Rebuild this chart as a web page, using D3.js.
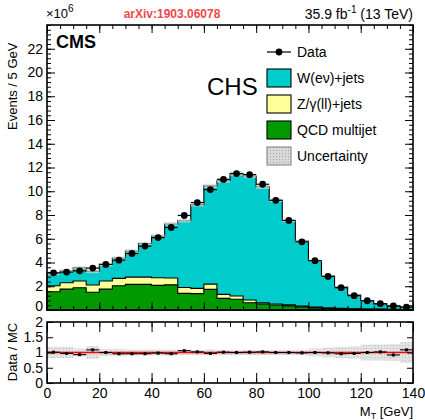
<!DOCTYPE html>
<html><head><meta charset="utf-8">
<script src="https://cdn.jsdelivr.net/npm/d3@7"></script>
<style>
body{margin:0;background:#fff}
svg{display:block}
text{font-family:"Liberation Sans",Arial,Helvetica,sans-serif;fill:#000}
</style>
</head><body>
<svg id="c" width="425" height="420"></svg>
<script>
// ---- data (units of 10^6 events / 5 GeV) ----
const binLow = d3.range(0, 140, 5);      // lower bin edges, GeV
const binWidth = 5;
const dataVals = [3.13,3.19,3.30,3.53,3.84,4.20,4.76,5.38,6.10,6.95,7.96,9.05,10.14,11.00,11.49,11.40,10.59,9.24,7.54,5.74,4.15,2.83,1.88,1.21,0.78,0.53,0.34,0.25];
const qcdVals  = [1.54,1.76,1.88,1.49,1.76,2.04,2.16,2.16,2.07,2.12,1.40,1.38,1.74,0.98,0.90,0.61,0.50,0.42,0.35,0.26,0.18,0.13,0.10,0.08,0.06,0.05,0.04,0.03];
const zVals    = [0.50,0.53,0.56,0.61,0.68,0.62,0.61,0.61,0.64,0.57,0.50,0.44,0.44,0.34,0.28,0.23,0.10,0.09,0.08,0.07,0.06,0.05,0.04,0.03,0.02,0.02,0.01,0.01];
const wVals    = [1.06,1.00,1.11,1.15,1.40,1.72,2.19,2.83,3.51,4.55,5.61,7.05,8.27,9.57,10.31,10.45,9.78,8.73,7.11,5.47,3.91,2.68,1.82,1.14,0.70,0.45,0.32,0.19];
const mainUnc  = [0.15,0.15,0.15,0.15,0.15,0.15,0.15,0.15,0.15,0.15,0.15,0.15,0.18,0.18,0.18,0.18,0.18,0.15,0.15,0.12,0.10,0.08,0.07,0.05,0.04,0.03,0.03,0.02];
const ratioUnc = [0.18,0.18,0.13,0.21,0.12,0.12,0.10,0.10,0.10,0.10,0.08,0.08,0.10,0.08,0.08,0.08,0.08,0.08,0.08,0.09,0.13,0.16,0.18,0.20,0.26,0.26,0.27,0.34];
const yTicks = d3.range(0, 23, 2);
const xTicks = [0, 20, 40, 60, 80, 100, 120, 140];
const rTicks = [0, 0.5, 1, 1.5, 2];
const legendLabels = ["Data", "W(eν)+jets", "Z/γ(ll)+jets", "QCD multijet", "Uncertainty"];

const colors = {w: "#00cccc", z: "#ffff99", qcd: "#009900"};

const svg = d3.select("#c");
const defs = svg.append("defs");
const pat = defs.append("pattern").attr("id","unc").attr("patternUnits","userSpaceOnUse")
  .attr("width",3).attr("height",3);
pat.append("rect").attr("width",3).attr("height",3).attr("fill","#d8d8d8");
pat.append("rect").attr("width",1).attr("height",1).attr("fill","#a8a8a8");

const x = d3.scaleLinear().domain([0,140]).range([47,413]);
const y = d3.scaleLinear().domain([0,24]).range([310,25]);
const yr = d3.scaleLinear().domain([0,2]).range([383,322]);

// ---- stack ----
const rows = binLow.map((b,i)=>({b, qcd:qcdVals[i], z:zVals[i], w:wVals[i]}));
const stack = d3.stack().keys(["qcd","z","w"])(rows);
const area = d3.area().curve(d3.curveStepAfter)
  .x(d=>x(d.xe)).y0(d=>y(d.y0)).y1(d=>y(d.y1));
const main = svg.append("g");
[...stack].reverse().forEach(s=>{
  const pts = s.map((d,i)=>({xe:binLow[i], y0:0, y1:d[1]}));
  const last = s[s.length-1];
  pts.push({xe:140, y0:0, y1:last[1]});
  main.append("path").attr("d", area(pts))
    .attr("fill", colors[s.key]).attr("stroke","#000").attr("stroke-width",1.1);
});

// uncertainty band on main plot
const mcTot = rows.map(r=>r.qcd+r.z+r.w);
main.selectAll("rect.unc").data(binLow).join("rect").attr("class","unc")
  .attr("x", d=>x(d)).attr("width", x(binWidth)-x(0))
  .attr("y", (d,i)=>y(mcTot[i]+mainUnc[i]))
  .attr("height", (d,i)=>y(mcTot[i]-mainUnc[i])-y(mcTot[i]+mainUnc[i]))
  .attr("fill","url(#unc)").attr("opacity",0.7);

// data points
const dp = main.append("g");
dp.selectAll("line").data(binLow).join("line")
  .attr("x1", d=>x(d)).attr("x2", d=>x(d+binWidth))
  .attr("y1",(d,i)=>y(dataVals[i])).attr("y2",(d,i)=>y(dataVals[i]))
  .attr("stroke","#000").attr("stroke-width",1.2);
dp.selectAll("circle").data(binLow).join("circle")
  .attr("cx", d=>x(d+binWidth/2)).attr("cy",(d,i)=>y(dataVals[i])).attr("r",3.4).attr("fill","#000");

// ---- axes (main) ----
function styleAxis(g, fs){
  g.select(".domain").remove();
  g.selectAll(".tick line").attr("stroke","#000").attr("stroke-width",1);
  g.selectAll("text").attr("font-size",fs).attr("font-family","Liberation Sans, Arial, sans-serif").attr("fill","#000");
}
svg.append("g").attr("transform","translate(47,0)")
  .call(d3.axisLeft(y).tickValues(yTicks).tickSize(-8).tickPadding(4).tickFormat(d3.format("d")))
  .call(g=>styleAxis(g,14))
  .call(g=>g.selectAll(".tick text").filter(d=>d===0).attr("dy","0"));
svg.append("g").attr("transform","translate(47,0)")
  .call(d3.axisLeft(y).tickValues(d3.range(0,24.01,0.4)).tickSize(-4).tickFormat(""))
  .call(g=>styleAxis(g,14));
svg.append("g").attr("transform","translate(413,0)")
  .call(d3.axisRight(y).tickValues(yTicks).tickSize(-8).tickFormat(""))
  .call(g=>styleAxis(g,14));
svg.append("g").attr("transform","translate(413,0)")
  .call(d3.axisRight(y).tickValues(d3.range(0,24.01,0.4)).tickSize(-4).tickFormat(""))
  .call(g=>styleAxis(g,14));
[[25,"top"],[310,"bottom"]].forEach(([yy,side])=>{
  const ax = side==="top"?d3.axisTop:d3.axisBottom;
  svg.append("g").attr("transform",`translate(0,${yy})`)
    .call(ax(x).tickValues(xTicks).tickSize(-8).tickFormat("")).call(g=>styleAxis(g,14));
  svg.append("g").attr("transform",`translate(0,${yy})`)
    .call(ax(x).tickValues(d3.range(0,141,5)).tickSize(-4).tickFormat("")).call(g=>styleAxis(g,14));
});
svg.append("rect").attr("x",47).attr("y",25).attr("width",366).attr("height",285)
  .attr("fill","none").attr("stroke","#000").attr("stroke-width",1.6);

// ---- ratio panel ----
const rp = svg.append("g");
rp.selectAll("rect.band").data(binLow).join("rect").attr("class","band")
  .attr("x", d=>x(d)).attr("width", x(binWidth)-x(0))
  .attr("y",(d,i)=>yr(1+ratioUnc[i])).attr("height",(d,i)=>yr(1-ratioUnc[i])-yr(1+ratioUnc[i]))
  .attr("fill","url(#unc)").attr("opacity",0.75);
rp.append("line").attr("x1",x(0)).attr("x2",x(140)).attr("y1",yr(1)).attr("y2",yr(1))
  .attr("stroke","#ff0000").attr("stroke-width",1.5);
const ratioVals = dataVals.map((v,i)=>v/mcTot[i]);
rp.selectAll("line.rl").data(binLow).join("line").attr("class","rl")
  .attr("x1", d=>x(d)).attr("x2", d=>x(d+binWidth))
  .attr("y1",(d,i)=>yr(ratioVals[i])).attr("y2",(d,i)=>yr(ratioVals[i]))
  .attr("stroke","#000").attr("stroke-width",1.1);
rp.selectAll("rect.rp").data(binLow).join("rect").attr("class","rp")
  .attr("x", d=>x(d+binWidth/2)-1.5).attr("y",(d,i)=>yr(ratioVals[i])-1.5)
  .attr("width",3).attr("height",3).attr("fill","#000");

svg.append("g").attr("transform","translate(47,0)")
  .call(d3.axisLeft(yr).tickValues(rTicks).tickSize(-6).tickPadding(4).tickFormat(d=>d3.format("")(d)))
  .call(g=>styleAxis(g,14));
svg.append("g").attr("transform","translate(413,0)")
  .call(d3.axisRight(yr).tickValues(rTicks).tickSize(-6).tickFormat(""))
  .call(g=>styleAxis(g,14));
svg.append("g").attr("transform","translate(0,383)")
  .call(d3.axisBottom(x).tickValues(xTicks).tickSize(-10).tickPadding(5).tickFormat(d3.format("d")))
  .call(g=>styleAxis(g,14));
svg.append("g").attr("transform","translate(0,383)")
  .call(d3.axisBottom(x).tickValues(d3.range(0,141,5)).tickSize(-5).tickFormat(""))
  .call(g=>styleAxis(g,14));
svg.append("g").attr("transform","translate(0,322)")
  .call(d3.axisTop(x).tickValues(xTicks).tickSize(-10).tickFormat(""))
  .call(g=>styleAxis(g,14));
svg.append("g").attr("transform","translate(0,322)")
  .call(d3.axisTop(x).tickValues(d3.range(0,141,5)).tickSize(-5).tickFormat(""))
  .call(g=>styleAxis(g,14));
svg.append("rect").attr("x",47).attr("y",322).attr("width",366).attr("height",61)
  .attr("fill","none").attr("stroke","#000").attr("stroke-width",1.6);

// ---- texts ----
const t1 = svg.append("text").attr("x",46).attr("y",18).attr("font-size",13);
t1.append("tspan").text("×10");
t1.append("tspan").attr("dy",-6).attr("font-size",10).text("6");
svg.append("text").attr("x",172).attr("y",18).attr("text-anchor","middle")
  .attr("font-family","DejaVu Sans, sans-serif").attr("font-weight","bold").attr("font-size",12)
  .style("fill","#f04848").text("arXiv:1903.06078");
const lt = svg.append("text").attr("x",413).attr("y",19).attr("text-anchor","end").attr("font-size",14);
lt.append("tspan").text("35.9 fb");
lt.append("tspan").attr("dy",-6).attr("font-size",10).text("-1");
lt.append("tspan").attr("dy",6).text(" (13 TeV)");
svg.append("text").attr("x",56).attr("y",48).attr("font-size",18).attr("font-weight","bold").text("CMS");
svg.append("text").attr("x",207).attr("y",95).attr("font-size",24).text("CHS");

svg.append("text").attr("transform","translate(17,130) rotate(-90)").attr("font-size",13).text("Events / 5 GeV");
svg.append("text").attr("transform","translate(17,352) rotate(-90)").attr("text-anchor","middle").attr("font-size",13).text("Data / MC");
const xt = svg.append("text").attr("x",413).attr("y",416).attr("text-anchor","end").attr("font-size",13);
xt.append("tspan").text("M");
xt.append("tspan").attr("dy",3).attr("font-size",9).text("T");
xt.append("tspan").attr("dy",-3).text(" [GeV]");

// ---- legend ----
const lg = svg.append("g");
const rowY = [52, 78, 104, 130, 156];
lg.append("line").attr("x1",267).attr("x2",291).attr("y1",rowY[0]).attr("y2",rowY[0]).attr("stroke","#000").attr("stroke-width",1.2);
lg.append("circle").attr("cx",279).attr("cy",rowY[0]).attr("r",3.4).attr("fill","#000");
const fills = [null, colors.w, colors.z, colors.qcd, "url(#unc)"];
for (let i=1;i<5;i++){
  lg.append("rect").attr("x",267).attr("y",rowY[i]-9).attr("width",24).attr("height",18)
    .attr("fill",fills[i]).attr("stroke", i===4?"#888":"#000").attr("stroke-width",1.1);
}
legendLabels.forEach((l,i)=>{
  lg.append("text").attr("x",297).attr("y",rowY[i]+5).attr("font-size",14).text(l);
});
</script>
</body></html>
